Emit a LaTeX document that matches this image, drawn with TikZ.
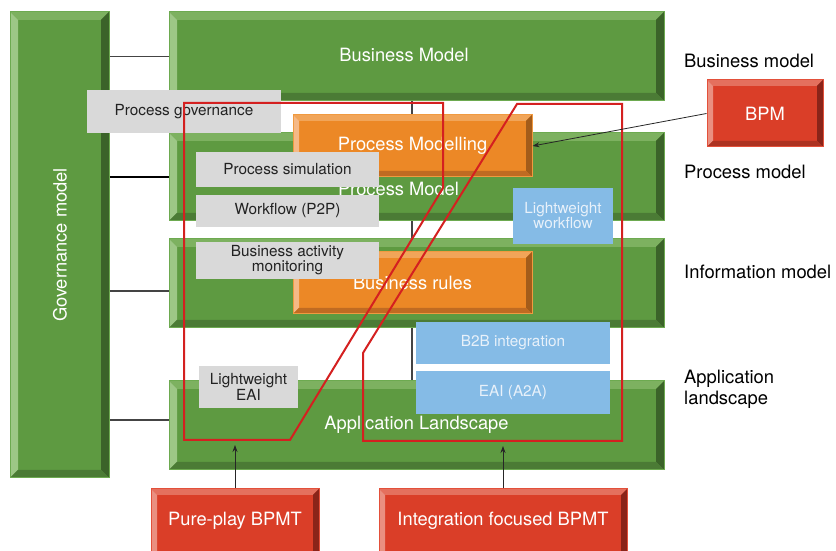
\documentclass[tikz,border=0pt]{standalone}
\usepackage{fontspec}
\setmainfont{TeX Gyre Heros}
\usetikzlibrary{arrows.meta,calc,backgrounds}

\definecolor{gMain}{HTML}{5E9A41}
\definecolor{gLine}{HTML}{6DAA50}
\definecolor{gTop}{HTML}{7DB160}
\definecolor{gLeft}{HTML}{9DC786}
\definecolor{gRight}{HTML}{3B6329}
\definecolor{gBot}{HTML}{4B7B35}
\definecolor{oMain}{HTML}{EC8826}
\definecolor{oLine}{HTML}{F09A40}
\definecolor{oTop}{HTML}{F1A559}
\definecolor{oLeft}{HTML}{F5B987}
\definecolor{oRight}{HTML}{A35C1A}
\definecolor{oBot}{HTML}{C06B22}
\definecolor{rMain}{HTML}{DA3E28}
\definecolor{rLine}{HTML}{E3503A}
\definecolor{rTop}{HTML}{E4705E}
\definecolor{rLeft}{HTML}{EA8F80}
\definecolor{rRight}{HTML}{8A2419}
\definecolor{rBot}{HTML}{AD3221}
\definecolor{grayC}{HTML}{D9D9D9}
\definecolor{grayT}{HTML}{222222}
\definecolor{blueC}{HTML}{85BBE6}
\definecolor{blueT}{HTML}{E8F1FA}
\definecolor{redL}{HTML}{D42020}
\definecolor{lineC}{HTML}{444444}

\newcommand\fbig{\fontsize{18.3}{20}\selectfont}
\newcommand\fsmall{\fontsize{15.3}{14}\selectfont}
\newcommand\flab{\fontsize{18.4}{21}\selectfont}

\newcommand\bevelfill[5]{%
  \fill[#2] (path picture bounding box.north west) -- (path picture bounding box.north east) -- ([shift={(-#1,-#1)}]path picture bounding box.north east) -- ([shift={(#1,-#1)}]path picture bounding box.north west) -- cycle;
  \fill[#3] (path picture bounding box.north west) -- ([shift={(#1,-#1)}]path picture bounding box.north west) -- ([shift={(#1,#1)}]path picture bounding box.south west) -- (path picture bounding box.south west) -- cycle;
  \fill[#4] (path picture bounding box.north east) -- ([shift={(-#1,-#1)}]path picture bounding box.north east) -- ([shift={(-#1,#1)}]path picture bounding box.south east) -- (path picture bounding box.south east) -- cycle;
  \fill[#5] (path picture bounding box.south west) -- ([shift={(#1,#1)}]path picture bounding box.south west) -- ([shift={(-#1,#1)}]path picture bounding box.south east) -- (path picture bounding box.south east) -- cycle;
}

\tikzset{
  gbar/.style={draw=gLine, line width=1pt, fill=gMain, inner sep=0pt,
    path picture={\bevelfill{8pt}{gTop}{gLeft}{gRight}{gBot}}},
  obox/.style={draw=oLine, line width=1pt, fill=oMain, inner sep=0pt, text=white, font=\fbig,
    path picture={\bevelfill{6pt}{oTop}{oLeft}{oRight}{oBot}}},
  rbox/.style={draw=rLine, line width=1pt, fill=rMain, inner sep=0pt, text=white, font=\fbig,
    path picture={\bevelfill{6pt}{rTop}{rLeft}{rRight}{rBot}}},
  bartext/.style={text=white, font=\fbig, inner sep=0pt},
  gbox/.style={fill=grayC, inner sep=0pt, text=grayT, font=\fsmall, align=center},
  bbox/.style={fill=blueC, inner sep=0pt, text=blueT, font=\fsmall, align=center},
  conn/.style={draw=lineC, line width=1.1pt},
  redpoly/.style={draw=redL, line width=2pt, line join=miter},
  arr/.style={draw=black!85, line width=0.8pt, -{Stealth[length=7pt,width=5pt]}},
  rlabel/.style={anchor=west, inner sep=0pt, text=black, font=\flab, align=left}
}

\begin{document}
\begin{tikzpicture}[x=1pt,y=1pt]
\useasboundingbox (0,0) rectangle (836,551);

% bars
\node[gbar, minimum width=99pt, minimum height=466pt] (gov) at (59.5,306) {};
\node[bartext, rotate=90] (govt) at (60,306) {Governance model};
\node[gbar, minimum width=495pt, minimum height=89pt] (bm) at (416.5,494.5) {};
\node[gbar, minimum width=495pt, minimum height=88pt] (pm) at (416.5,374) {};
\node[gbar, minimum width=495pt, minimum height=89pt] (im) at (416.5,267.5) {};
\node[gbar, minimum width=495pt, minimum height=89pt] (al) at (416.5,125.5) {};
\node[bartext] (bmt) at (404,496) {Business Model};
\node[bartext] (pmt) at (398.5,362) {Process Model};
\node[bartext] (alt) at (416.5,126) {Application Landscape};

% background vertical line and connectors
\begin{pgfonlayer}{background}
\draw[conn] ($(bm.south)+(-4.5,0)$) -- ($(al.north)+(-4.5,0)$);
\end{pgfonlayer}
\draw[conn] (gov.east |- bm.west) -- (bm.west);
\draw[conn, draw=black, line width=1.8pt] (gov.east |- pm.west) -- (pm.west);
\draw[conn] ($(gov.east |- im.west)+(0,-7.5)$) -- ($(im.west)+(0,-7.5)$);
\draw[conn] ($(gov.east |- al.west)+(0,5.5)$) -- ($(al.west)+(0,5.5)$);

% orange boxes
\node[obox, minimum width=239pt, minimum height=62pt] (pmod) at (412.5,405) {Process Modelling};
\node[obox, minimum width=239pt, minimum height=62pt] (brules) at (412.5,268) {Business rules};

% gray boxes
\node[gbox, minimum width=194pt, minimum height=43pt] (pgov) at (184,439.5) {Process governance};
\node[gbox, minimum width=183pt, minimum height=35pt] (psim) at (287.5,381.5) {Process simulation};
\node[gbox, minimum width=183pt, minimum height=32pt] (wf) at (287.5,340) {Workflow (P2P)};
\node[gbox, minimum width=183pt, minimum height=37pt] (bam) at (287.5,290.5) {Business activity\\monitoring};
\node[gbox, minimum width=99pt, minimum height=42pt, font=\fontsize{15.3}{16}\selectfont] (leai) at (248.5,164) {Lightweight\\EAI};

% blue boxes
\node[bbox, minimum width=100pt, minimum height=56pt, font=\fontsize{15.3}{15}\selectfont] (lwf) at (563,335) {Lightweight\\workflow};
\node[bbox, minimum width=194pt, minimum height=42pt] (b2b) at (513,208) {B2B integration};
\node[bbox, minimum width=194pt, minimum height=43pt] (eai) at (513,158.5) {EAI (A2A)};

% red outlines
\draw[redpoly] (184,448) -- (443,448) -- (443,363) -- (290,111) -- (184,111) -- cycle;
\draw[redpoly] (517,447) -- (622,447) -- (622,110) -- (363,110) -- (363,198) -- cycle;

% red boxes
\node[rbox, minimum width=116pt, minimum height=67pt] (bpm) at (765,437.5) {BPM};
\node[rbox, minimum width=168pt, minimum height=80pt,
  label={[text=white, font=\fbig, yshift=8pt]center:Pure-play BPMT}] (pure) at (235,22) {};
\node[rbox, minimum width=248pt, minimum height=80pt,
  label={[text=white, font=\fbig, yshift=8pt]center:Integration focused BPMT}] (integ) at (503,22) {};

% arrows
\coordinate (pe) at (235,106);
\coordinate (ie) at (503,105);
\draw[arr] (bpm.west) -- (pmod.east);
\draw[arr] (pure.north) -- (pe);
\draw[arr] (integ.north) -- (ie);

% right labels
\node[rlabel] (lbm) at (684,490) {Business model};
\node[rlabel] (lpm) at (684,379) {Process model};
\node[rlabel] (lim) at (684,279) {Information model};
\node[rlabel] (lal) at (684,161.5) {Application\\landscape};
\end{tikzpicture}
\end{document}
